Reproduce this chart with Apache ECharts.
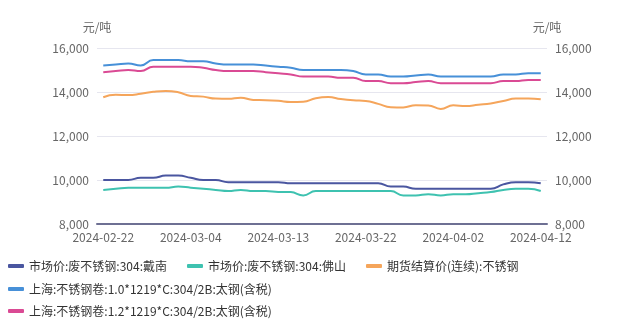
<!DOCTYPE html>
<html><head><meta charset="utf-8">
<script src="https://cdn.jsdelivr.net/npm/echarts@6/dist/echarts.min.js"></script>
<style>html,body{margin:0;padding:0;background:#fff}#c{width:629px;height:325px}</style>
</head><body><div id="c"></div>
<script>
const dates = ['2024-02-22','2024-02-23','2024-02-26','2024-02-27','2024-02-28','2024-02-29','2024-03-01','2024-03-04','2024-03-05','2024-03-06','2024-03-07','2024-03-08','2024-03-11','2024-03-12','2024-03-13','2024-03-14','2024-03-15','2024-03-18','2024-03-19','2024-03-20','2024-03-21','2024-03-22','2024-03-25','2024-03-26','2024-03-27','2024-03-28','2024-03-29','2024-04-01','2024-04-02','2024-04-03','2024-04-07','2024-04-08','2024-04-09','2024-04-10','2024-04-11','2024-04-12'];
const nameDainan = '市场价:废不锈钢:304:戴南';
const nameFoshan = '市场价:废不锈钢:304:佛山';
const nameFutures = '期货结算价(连续):不锈钢';
const nameCoil10 = '上海:不锈钢卷:1.0*1219*C:304/2B:太钢(含税)';
const nameCoil12 = '上海:不锈钢卷:1.2*1219*C:304/2B:太钢(含税)';
const dainan = [10000,10000,10000,10100,10100,10200,10200,10100,10000,10000,9900,9900,9900,9900,9900,9850,9850,9850,9850,9850,9850,9850,9850,9700,9700,9600,9600,9600,9600,9600,9600,9600,9800,9900,9900,9850];
const foshan = [9550,9600,9650,9650,9650,9650,9700,9650,9600,9550,9500,9550,9500,9500,9460,9450,9300,9500,9500,9500,9500,9500,9500,9500,9300,9300,9350,9300,9350,9350,9400,9450,9550,9600,9600,9500];
const futures = [13760,13870,13860,13920,14010,14050,13990,13820,13790,13700,13690,13740,13640,13630,13600,13550,13560,13720,13770,13680,13620,13590,13460,13310,13300,13400,13390,13230,13400,13360,13420,13480,13590,13700,13710,13670];
const coil10 = [15200,15250,15300,15200,15450,15450,15450,15400,15400,15300,15250,15250,15250,15200,15150,15100,15000,15000,15000,15000,14950,14800,14800,14700,14700,14750,14800,14700,14700,14700,14700,14700,14800,14800,14850,14850];
const coil12 = [14900,14950,15000,14950,15150,15150,15150,15150,15100,15000,14950,14950,14950,14900,14850,14800,14700,14700,14700,14650,14650,14500,14500,14400,14400,14450,14500,14400,14400,14400,14400,14400,14500,14500,14550,14550];
const yTicks = {min: 8000, max: 16000, interval: 2000};

const colors = ['#4a56a0','#3ec2b0','#f5a55b','#4790d8','#da4a94'];
const font = '"Noto Sans CJK SC", "Noto Sans", sans-serif';
const chart = echarts.init(document.getElementById('c'), null, {renderer:'canvas'});
const legendBase = {
  left: 3, icon: 'roundRect', itemWidth: 16, itemHeight: 4, itemGap: 20,
  textStyle: {fontSize: 12, color: '#333', fontFamily: font}
};
function mk(name, data, i){
  return {name, type:'line', data, yAxisIndex: 0, symbol:'none', smooth: true,
    lineStyle:{width:2, color: colors[i]}, itemStyle:{color: colors[i]}};
}
const yAxisCommon = (pos) => ({
  type:'value', position: pos, min: yTicks.min, max: yTicks.max, interval: yTicks.interval,
  name:'元/吨', nameTextStyle:{color:'#666', fontSize:12, fontFamily: font},
  axisLine:{show:false}, axisTick:{show:false},
  axisLabel:{color:'#666', fontSize:12, fontFamily: font},
  splitLine:{show: pos==='left', lineStyle:{color:'#e6e6ef'}}
});
chart.setOption({
  animation:false,
  color: colors,
  grid:{left:97, right:82, top:48, bottom:101, containLabel:false},
  legend:[
    Object.assign({top:255, data:[nameDainan, nameFoshan, nameFutures]}, legendBase),
    Object.assign({top:278, data:[nameCoil10]}, legendBase),
    Object.assign({top:300, data:[nameCoil12]}, legendBase)
  ],
  xAxis:{type:'category', data: dates, boundaryGap:true,
    axisLine:{lineStyle:{color:'#6e7093', width:2}}, axisTick:{show:false},
    axisLabel:{interval:6, color:'#666', fontSize:12, fontFamily: font, margin:7}},
  yAxis:[yAxisCommon('left'), yAxisCommon('right')],
  series:[mk(nameDainan,dainan,0), mk(nameFoshan,foshan,1), mk(nameFutures,futures,2), mk(nameCoil10,coil10,3), mk(nameCoil12,coil12,4)]
});
</script></body></html>
